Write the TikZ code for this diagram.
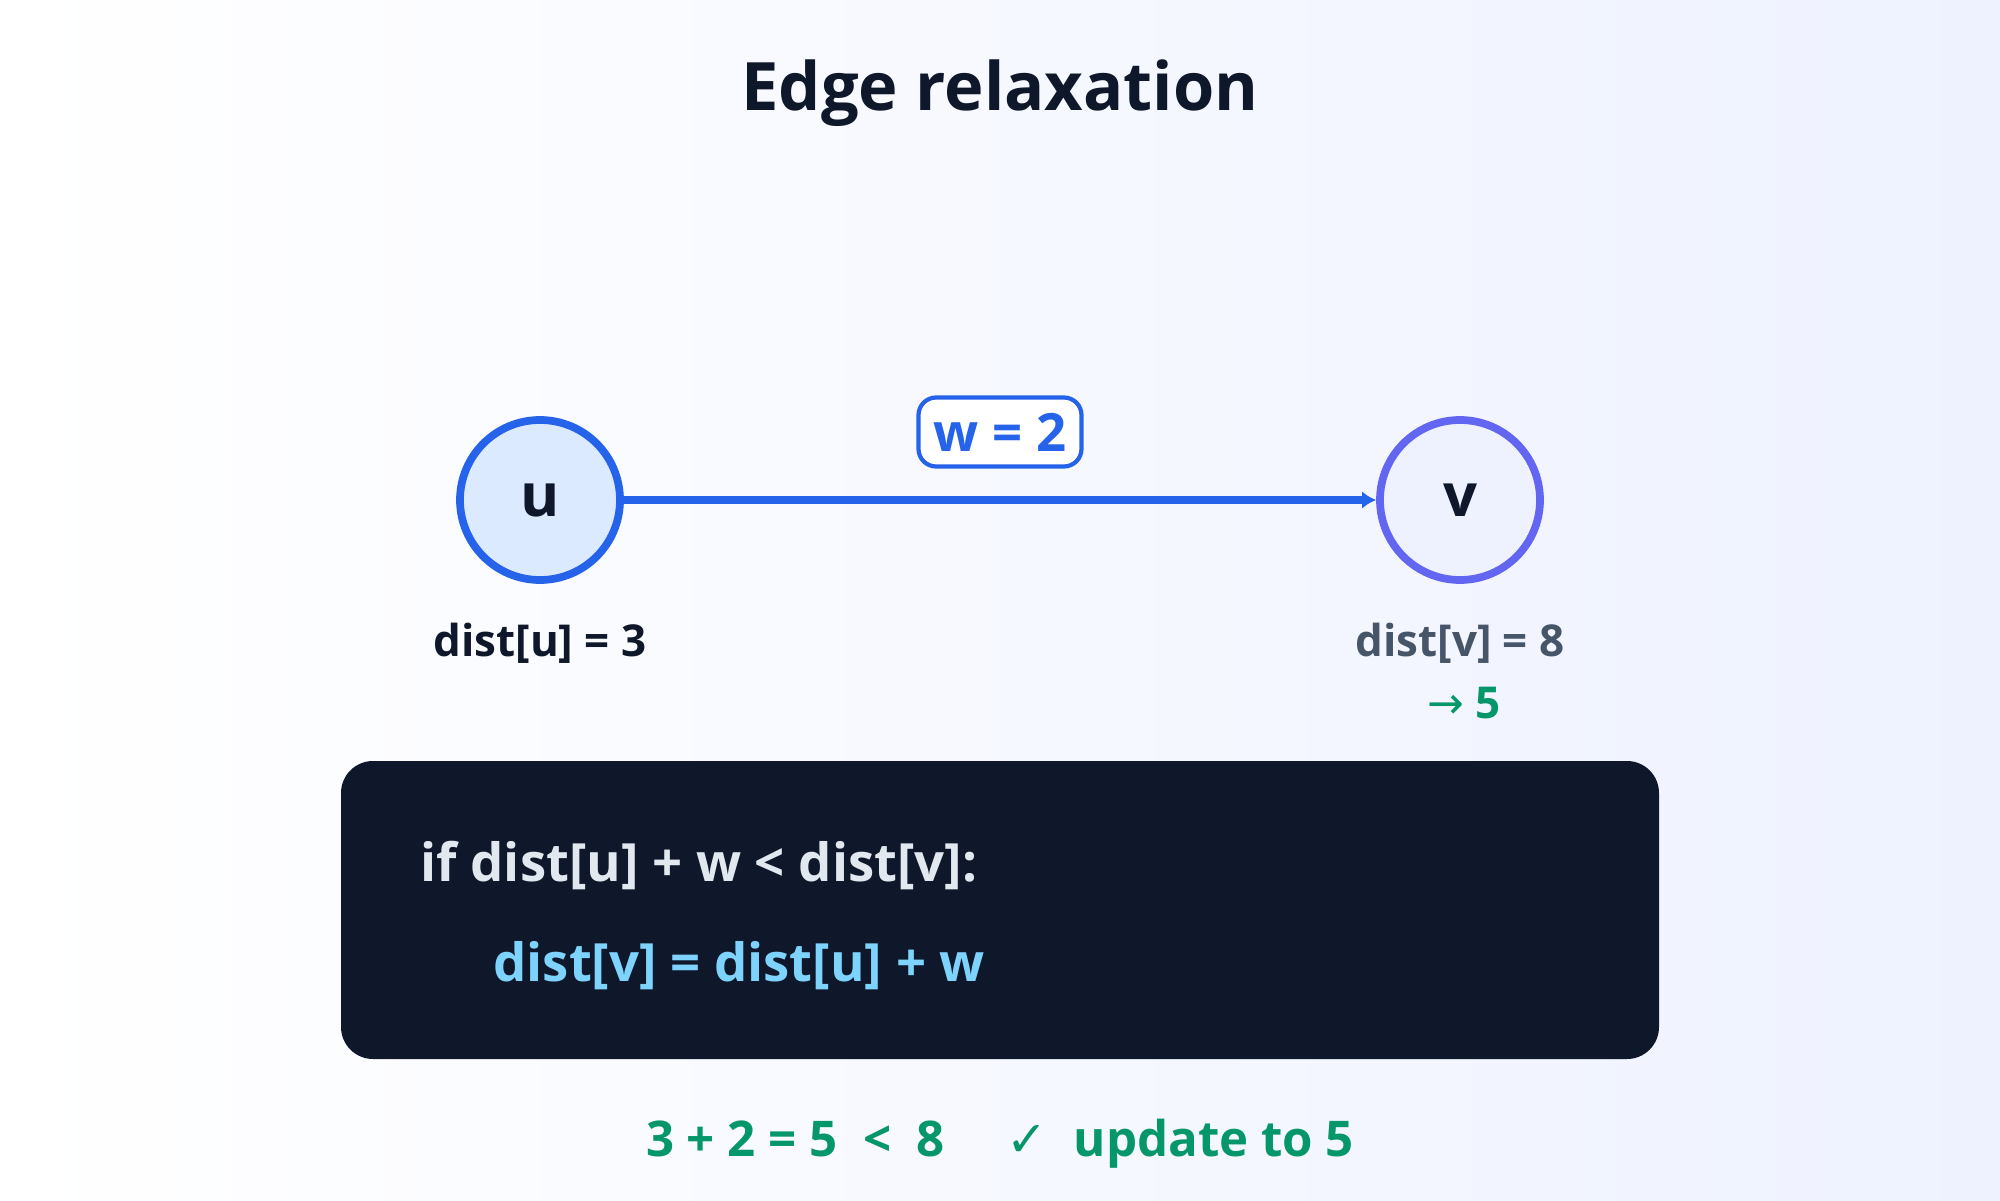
\documentclass[tikz,border=0pt]{standalone}
\usepackage{fontspec}
\setmainfont{Open Sans}
\newfontfamily\symfont{DejaVu Sans}
\usetikzlibrary{arrows.meta}
\definecolor{edgeblue}{HTML}{2563EB}
\definecolor{ufill}{HTML}{DBEAFE}
\definecolor{vline}{HTML}{6366F1}
\definecolor{vfill}{HTML}{EEF2FF}
\definecolor{codebg}{HTML}{0F172A}
\definecolor{codetext}{HTML}{E2E8F0}
\definecolor{codeblue}{HTML}{7DD3FC}
\definecolor{okgreen}{HTML}{059669}
\definecolor{slate}{HTML}{475569}
\tikzset{
    vertex/.style={circle, line width=2.2pt, minimum size=1.6cm, inner sep=0pt, font=\bfseries\fontsize{17}{20}\selectfont, text=codebg},
    distlabel/.style={font=\bfseries\fontsize{12.5}{15}\selectfont},
}
\begin{document}
\begin{tikzpicture}
        \useasboundingbox (0,0) rectangle (20,12);
        \shade[shading angle=135, left color=white, right color=vfill] (0,0) rectangle (20,12);

        \node[font=\bfseries\fontsize{19}{23}\selectfont, text=codebg] (title) at (10,11.07) {Edge relaxation};

        \node[vertex, draw=edgeblue, fill=ufill] (u) at (5.4,7) {u};
        \node[vertex, draw=vline, fill=vfill] (v) at (14.6,7) {v};

        \draw[-{Latex[length=4pt,width=5pt]}, edgeblue, line width=2.4pt] (u) -- (v);

        % edge weight
        \node[rectangle, rounded corners=5pt, draw=edgeblue, line width=1.2pt, fill=white, minimum width=1.63cm, minimum height=0.69cm, text=edgeblue, font=\bfseries\fontsize{15}{18}\selectfont] (weight) at (10,7.68) {w = 2};

        % distances
        \node[distlabel, text=codebg] (distu) at (5.4,5.57) {dist[u] = 3};
        \node[distlabel, text=slate] (distv) at (14.6,5.57) {dist[v] = 8};
        \node[distlabel, text=okgreen] (newv) at (14.64,4.97) {{\symfont\mdseries →} 5};

        % code box
        \node[rectangle, rounded corners=0.32cm, fill=codebg, minimum width=13.18cm, minimum height=2.98cm] (code) at (10,2.9) {};
        \node[anchor=west, text=codetext, font=\bfseries\fontsize{15}{18}\selectfont] (line1) at (4.08,3.35) {if dist[u] + w < dist[v]:};
        \node[anchor=west, text=codeblue, font=\bfseries\fontsize{15}{18}\selectfont] (line2) at (4.81,2.34) {dist[v] = dist[u] + w};

        % result
        \node[text=okgreen, font=\bfseries\fontsize{14}{17}\selectfont] (result) at (10,0.56) {3 + 2 = 5 \ < \ 8 \quad {\symfont ✓} \ update to 5};
    \end{tikzpicture}
\end{document}
